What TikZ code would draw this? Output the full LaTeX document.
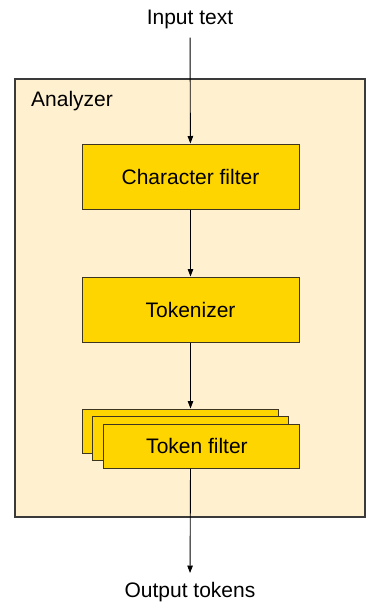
\documentclass[tikz,border=0pt]{standalone}
\usepackage{fontspec}
\setmainfont{Liberation Sans}
\usetikzlibrary{arrows.meta, positioning}
\definecolor{creambg}{HTML}{FFF0CF}
\definecolor{stageyel}{HTML}{FFD500}
\definecolor{edgegray}{HTML}{3A3A3A}
\definecolor{stageedge}{HTML}{3D3520}

\tikzset{
  lbl/.style={font=\fontsize{21}{25}\selectfont, text=black, inner sep=2pt},
  stagebox/.style={draw=stageedge, fill=stageyel, line width=1pt,
    minimum width=217pt, minimum height=65pt, inner sep=0pt,
    font=\fontsize{21}{25}\selectfont},
  filterbox/.style={stagebox, minimum width=196pt, minimum height=44pt},
  flow/.style={-{Triangle[length=7.5pt, width=5.5pt]}, line width=0.9pt, black}
}

\begin{document}
\begin{tikzpicture}[x=1pt, y=-1pt]
\useasboundingbox (0,0) rectangle (366,603);

% Analyzer frame
\node[draw=edgegray, fill=creambg, line width=1.4pt, minimum width=350pt,
  minimum height=438pt, inner sep=0pt] (analyzer) at (190,298) {};
\node[lbl, anchor=west] (analyzerlbl) at (29,101) {Analyzer};

% Input / output texts
\node[lbl] (input) at (190,19) {Input text};
\node[lbl] (output) at (190,592) {Output tokens};

% Stages
\node[stagebox] (charfilter) at (190.5,176.5) {Character filter};
\node[stagebox] (tokenizer) at (190.5,309.5) {Tokenizer};

% Token filter stack
\node[filterbox] (tfback) at (180,431) {};
\node[filterbox] (tfmid) at (190.5,438.5) {};
\node[filterbox] (tokfilter) at (201,446) {\hspace*{-8pt}Token filter};

% Connectors
\draw[flow, shorten <=7pt] (input) -- (charfilter);
\draw[flow] (charfilter) -- (tokenizer);
\draw[flow] (tokenizer.south) -- (tokenizer.south |- tfback.north);
\draw[flow, shorten >=7pt] (tokfilter.south -| tokenizer.south) -- (output.north);

\end{tikzpicture}
\end{document}
